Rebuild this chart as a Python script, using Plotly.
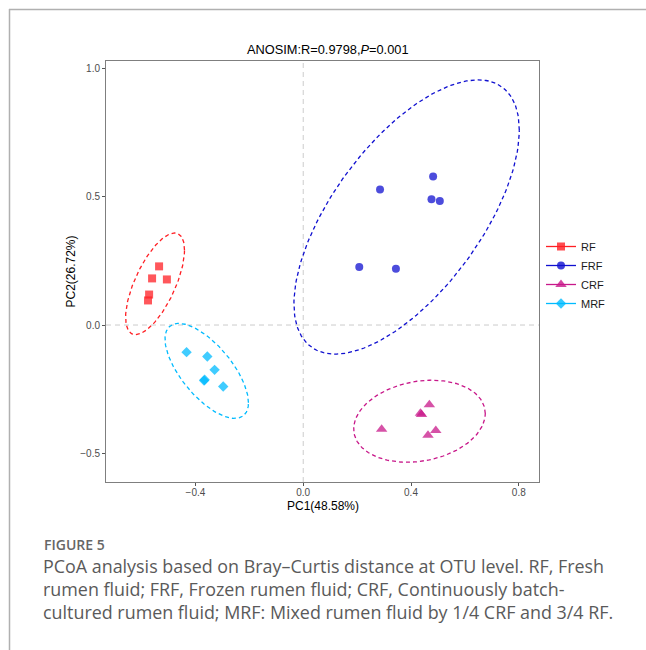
import numpy as np
import plotly.graph_objects as go

# ---- data ----
groups = ["RF", "FRF", "CRF", "MRF"]
rf_x = [-0.535, -0.561, -0.506, -0.572, -0.576]
rf_y = [0.229, 0.182, 0.178, 0.119, 0.096]
frf_x = [0.482, 0.285, 0.476, 0.507, 0.208, 0.344]
frf_y = [0.580, 0.529, 0.491, 0.484, 0.227, 0.220]
crf_x = [0.468, 0.435, 0.439, 0.291, 0.492, 0.463]
crf_y = [-0.311, -0.345, -0.349, -0.407, -0.412, -0.430]
mrf_x = [-0.433, -0.356, -0.329, -0.368, -0.366, -0.297]
mrf_y = [-0.106, -0.123, -0.175, -0.217, -0.214, -0.240]
x_ticks = [-0.4, 0.0, 0.4, 0.8]
x_tick_labels = ["\u22120.4", "0.0", "0.4", "0.8"]
y_ticks = [-0.5, 0.0, 0.5, 1.0]
y_tick_labels = ["\u22120.5", "0.0", "0.5", "1.0"]

colors = {"RF": "#FF1F24", "FRF": "#1010D0", "CRF": "#C8188A", "MRF": "#00BBFF"}
symbols = {"RF": "square", "FRF": "circle", "CRF": "triangle-up", "MRF": "diamond"}
sizes = {"RF": 8, "FRF": 8, "CRF": 10, "MRF": 8}
data = {"RF": (rf_x, rf_y), "FRF": (frf_x, frf_y), "CRF": (crf_x, crf_y), "MRF": (mrf_x, mrf_y)}

# plot area in pixels
W, H = 646, 650
L, R, T, B = 106, 539, 61, 482


def px(x):
    return (x - L) / (R - L)


def py(y):
    return (B - y) / (B - T)


def ellipse(xs, ys, level=0.95, n=200):
    # 95% normal-theory confidence ellipse (like ggplot2 stat_ellipse type="norm")
    xs = np.asarray(xs, float)
    ys = np.asarray(ys, float)
    center = np.array([xs.mean(), ys.mean()])
    cov = np.cov(np.vstack([xs, ys]))
    dfd = len(xs) - 1
    qf = (dfd / 2.0) * ((1 - level) ** (-2.0 / dfd) - 1)
    radius = np.sqrt(2 * qf)
    chol = np.linalg.cholesky(cov).T
    t = np.linspace(0, 2 * np.pi, n)
    circ = np.column_stack([np.cos(t), np.sin(t)])
    pts = center + radius * (circ @ chol)
    return pts[:, 0], pts[:, 1]


fig = go.Figure()

for g in groups:
    xs, ys = data[g]
    ex, ey = ellipse(xs, ys)
    fig.add_trace(go.Scatter(x=ex, y=ey, mode="lines", showlegend=False, hoverinfo="skip",
                             line=dict(color=colors[g], width=1.3, dash="4px,3px")))

for g in groups:
    xs, ys = data[g]
    fig.add_trace(go.Scatter(x=xs, y=ys, mode="markers", showlegend=False, name=g,
                             marker=dict(symbol=symbols[g], size=sizes[g], color=colors[g],
                                         opacity=0.75, line=dict(width=0))))

for g in groups:
    fig.add_trace(go.Scatter(x=[None], y=[None], mode="lines+markers", name=g,
                             marker=dict(symbol=symbols[g], size=sizes[g], color=colors[g], opacity=0.8),
                             line=dict(color=colors[g], width=1.3)))

shapes = [
    dict(type="line", xref="x", yref="paper", x0=0, x1=0, y0=0, y1=1,
         line=dict(color="#cccccc", width=1, dash="5px,4px"), layer="below"),
    dict(type="line", xref="paper", yref="y", x0=0, x1=1, y0=0, y1=0,
         line=dict(color="#cccccc", width=1, dash="5px,4px"), layer="below"),
    # outer frame
    dict(type="line", xref="paper", yref="paper", x0=px(9), x1=px(W), y0=py(9.5), y1=py(9.5),
         line=dict(color="#b0b0b0", width=1.5)),
    dict(type="line", xref="paper", yref="paper", x0=px(9.5), x1=px(9.5), y0=py(9), y1=py(H),
         line=dict(color="#b0b0b0", width=1.5)),
]

cap_font = dict(family="Open Sans", size=17.9, color="#5a5a5a")
annotations = [
    dict(text="ANOSIM:R=0.9798,<i>P</i>=0.001", xref="paper", yref="paper", x=px(328), y=py(50),
         xanchor="center", yanchor="middle", showarrow=False,
         font=dict(family="Liberation Sans", size=12.8, color="#000000")),
    dict(text="PC1(48.58%)", xref="paper", yref="paper", x=px(322.5), y=py(506),
         xanchor="center", yanchor="middle", showarrow=False,
         font=dict(family="Liberation Sans", size=12, color="#000000")),
    dict(text="FIGURE 5", xref="paper", yref="paper", x=px(42), y=py(544),
         xanchor="left", yanchor="middle", showarrow=False,
         font=dict(family="Open Sans", size=14, color="#666666", weight=600)),
    dict(text="PCoA analysis based on Bray\u2013Curtis distance at OTU level. RF, Fresh",
         xref="paper", yref="paper", x=px(41), y=py(566), xanchor="left", yanchor="middle",
         showarrow=False, font=cap_font),
    dict(text="rumen fluid; FRF, Frozen rumen fluid; CRF, Continuously batch-",
         xref="paper", yref="paper", x=px(41), y=py(589), xanchor="left", yanchor="middle",
         showarrow=False, font=cap_font),
    dict(text="cultured rumen fluid; MRF: Mixed rumen fluid by 1/4 CRF and 3/4 RF.",
         xref="paper", yref="paper", x=px(41), y=py(612), xanchor="left", yanchor="middle",
         showarrow=False, font=cap_font),
]

axis_common = dict(showgrid=False, zeroline=False, showline=True, linecolor="#7f7f7f", linewidth=1,
                   mirror=True, ticks="outside", ticklen=3, tickcolor="#555555", tickwidth=1,
                   tickfont=dict(family="Liberation Sans", size=10, color="#4d4d4d"))

fig.update_layout(
    width=W, height=H,
    margin=dict(l=L, r=W - R, t=T, b=H - B, autoexpand=False),
    paper_bgcolor="white", plot_bgcolor="white",
    xaxis=dict(range=[-0.732, 0.875], tickvals=x_ticks, ticktext=x_tick_labels,
               ticklabelstandoff=-2, **axis_common),
    yaxis=dict(range=[-0.613, 1.031], tickvals=y_ticks, ticktext=y_tick_labels,
               title=dict(text="PC2(26.72%)", standoff=2,
                          font=dict(family="Liberation Sans", size=12, color="#000000")),
               **axis_common),
    legend=dict(x=px(541), y=py(232), xanchor="left", yanchor="top", bgcolor="rgba(0,0,0,0)",
                font=dict(family="Liberation Sans", size=11, color="#1a1a1a"),
                tracegroupgap=0, itemwidth=30),
    shapes=shapes,
    annotations=annotations,
    showlegend=True,
)

fig.write_html("out.html", config={"displayModeBar": False},
               post_script="document.body.style.margin='0';document.body.style.padding='0';")
